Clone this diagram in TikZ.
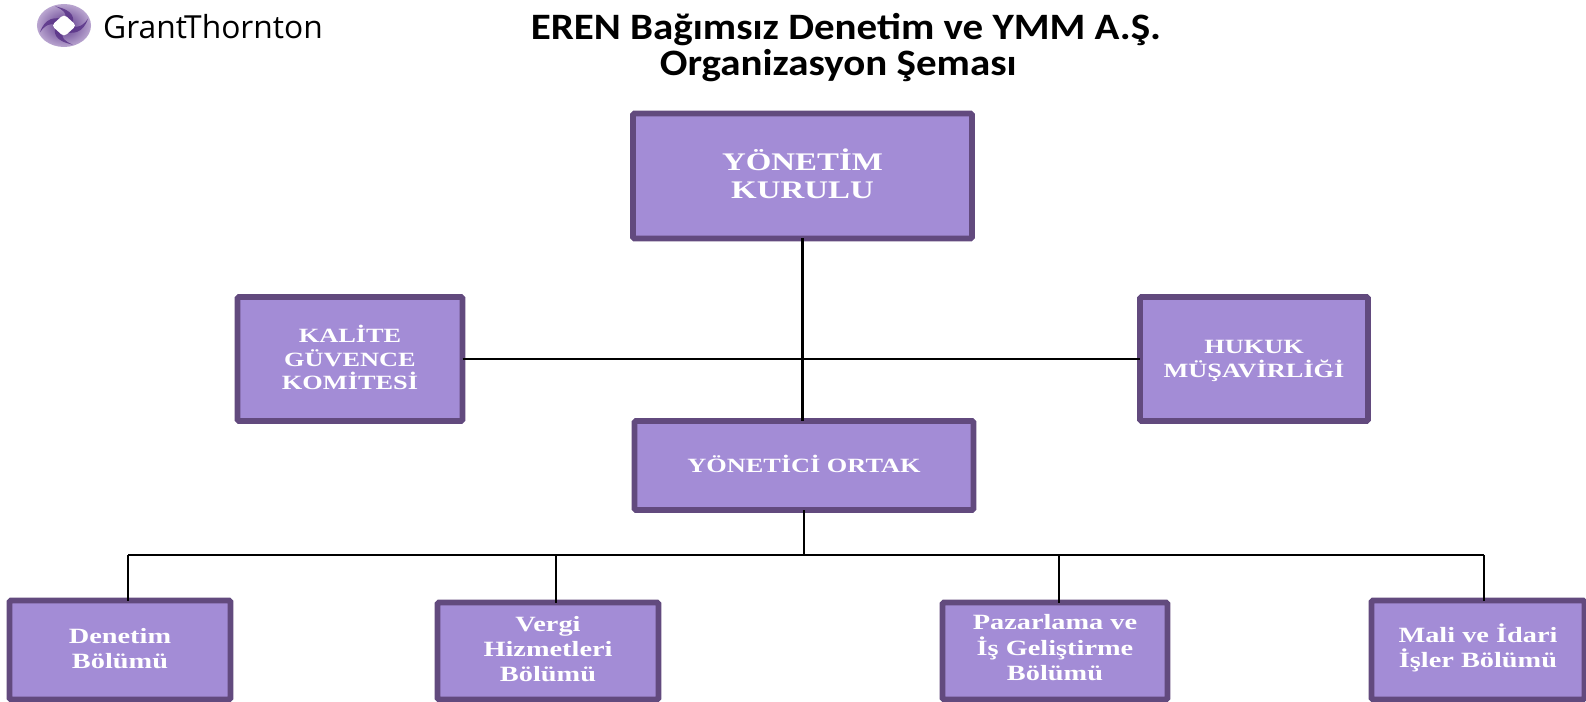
\documentclass[tikz,border=0pt]{standalone}
\usepackage{fontspec}
\setmainfont{Liberation Serif}
\newfontfamily\titlefont[FakeStretch=1.1]{Carlito}
\newfontfamily\logofont{Open Sans}
\newfontfamily\wideserif[FakeStretch=1.3]{Liberation Serif}
\usetikzlibrary{positioning}
\definecolor{boxfill}{HTML}{A38CD6}
\definecolor{boxline}{HTML}{624A7E}
\definecolor{logolight}{HTML}{A88FC4}
\definecolor{logodark}{HTML}{5A3488}
\tikzset{
box/.style={draw=boxline, fill=boxfill, line width=4pt, rounded corners=1pt, text=white, align=center, inner sep=0pt, outer sep=0pt, text depth=2pt, font=\wideserif\fontsize{15.5}{18}\selectfont\bfseries},
capsbox/.style={box, font=\wideserif\fontsize{14.4}{16.7}\selectfont\bfseries},
link/.style={draw=black, line width=1.6pt},
}
\begin{document}
\begin{tikzpicture}[x=0.025cm,y=-0.025cm]
\useasboundingbox (0,0) rectangle (1586,702);
% logo
\begin{scope}[shift={(64,25.5)},x=0.675cm,y=0.5375cm]
\shade[inner color=logodark,outer color=logolight!80] (0,0) circle (1);
\foreach \ang in {0,90,180,270}
\fill[logodark,opacity=.85] (\ang:0.3) .. controls (\ang+40:0.5) and (\ang+60:0.8) .. (\ang+110:0.95) .. controls (\ang+90:0.72) and (\ang+70:0.5) .. (\ang+90:0.3) -- cycle;
\fill[white,rounded corners=2.5pt] (0:0.46) -- (90:0.52) -- (180:0.46) -- (270:0.52) -- cycle;
\end{scope}
\node (logotext) at (213,27) {\logofont\fontsize{22.6}{26}\selectfont Grant\hspace{-2pt}Thornton};
\node (title) at (846,47.5) [align=center, font=\titlefont\fontsize{26.5}{26}\selectfont\bfseries] {EREN Bağımsız Denetim ve YMM A.Ş.\\ Organizasyon Şeması\hspace*{11pt}};
% boxes
\node (kurulu) at (802.5,176) [box, minimum width=339*0.025cm, minimum height=125*0.025cm, text depth=3.5pt, font=\wideserif\fontsize{18}{20}\selectfont\bfseries] {YÖNETİM\\ KURULU};
\node (kalite) at (350,359) [capsbox, minimum width=225*0.025cm, minimum height=124*0.025cm] {KALİTE\\ GÜVENCE\\ KOMİTESİ};
\node (hukuk) at (1254,359) [capsbox, minimum width=228*0.025cm, minimum height=124*0.025cm, text depth=0pt] {HUKUK\\ MÜŞAVİRLİĞİ};
\node (ortak) at (804,465.5) [capsbox, minimum width=339*0.025cm, minimum height=89*0.025cm] {YÖNETİCİ ORTAK};
\node (denetim) at (120,650) [box, minimum width=221*0.025cm, minimum height=99*0.025cm] {Denetim\\ Bölümü};
\node (vergi) at (548,651) [box, minimum width=221*0.025cm, minimum height=97*0.025cm, text depth=3.2pt] {Vergi\\ Hizmetleri\\ Bölümü};
\node (pazar) at (1055,651) [box, minimum width=225*0.025cm, minimum height=97*0.025cm, text depth=5pt] {Pazarlama ve\\ İş Geliştirme\\ Bölümü};
\node (mali) at (1478,650) [box, minimum width=213*0.025cm, minimum height=99*0.025cm, text depth=6pt] {Mali ve İdari\\ İşler Bölümü};
% connectors
\coordinate (busmid) at (804,555);
\coordinate (busleft) at (128,555);
\coordinate (busvergi) at (556,555);
\coordinate (buspazar) at (1059,555);
\coordinate (busright) at (1484,555);
\draw[link] (kurulu.south) -- (kurulu.south |- ortak.north);
\draw[link] (kalite.east) -- (hukuk.west);
\draw[link] (ortak.south) -- (busmid);
\draw[link] (busleft) -- (busright);
\draw[link] (busleft) -- (busleft |- denetim.north);
\draw[link] (busvergi) -- (busvergi |- vergi.north);
\draw[link] (buspazar) -- (buspazar |- pazar.north);
\draw[link] (busright) -- (busright |- mali.north);
\end{tikzpicture}
\end{document}
